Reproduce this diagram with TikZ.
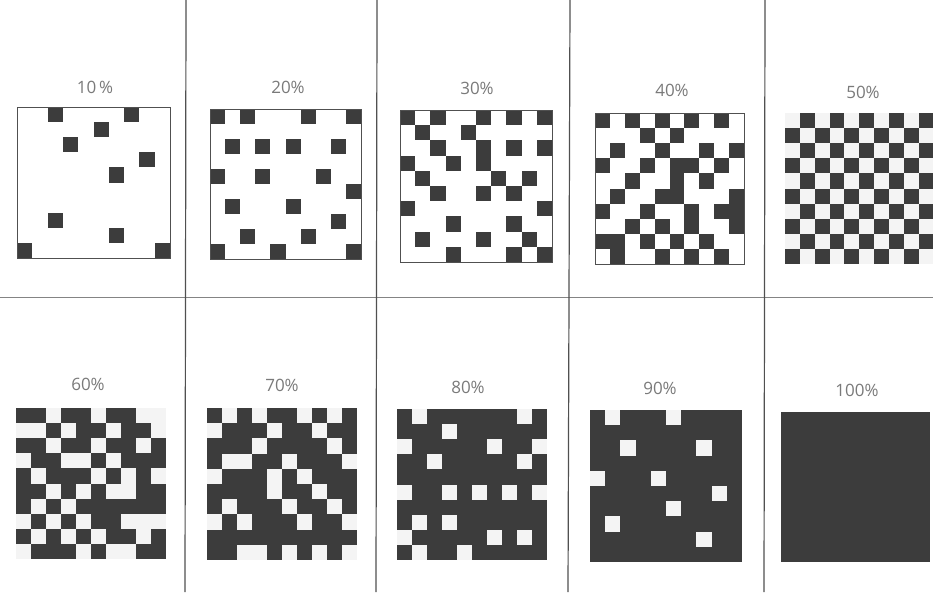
\documentclass[tikz,border=0pt]{standalone}
\usepackage{fontspec}
\setmainfont{Open Sans}
\definecolor{ink}{HTML}{3C3C3C}
\definecolor{paper}{HTML}{F4F4F4}
\definecolor{rule}{HTML}{505050}
\definecolor{lbl}{HTML}{7A7A7A}
\tikzset{
  inkcell/.style={fill=ink},
  papercell/.style={fill=paper},
  frame/.style={draw=rule,line width=0.9pt},
  divider/.style={draw=rule,line width=1.2pt},
  hdivider/.style={draw=rule!70,line width=1pt},
  pct/.style={text=lbl,font=\fontsize{17}{20}\selectfont,inner sep=0pt},
}
% light pattern: dark cells on white, framed
\newcommand\lightgrid[5]{%
  \begin{scope}[shift={(#1,#2)},x=#3pt,y=-#4pt]
    \foreach \cc/\rr in {#5} {\fill[inkcell] (\cc,\rr) rectangle ++(1,1);}
    \draw[frame] (0,0) rectangle (10,10);
  \end{scope}}
% dark pattern: white cells on dark
\newcommand\darkgrid[5]{%
  \begin{scope}[shift={(#1,#2)},x=#3pt,y=-#4pt]
    \fill[inkcell] (0,0) rectangle (10,10);
    \foreach \cc/\rr in {#5} {\fill[papercell] (\cc,\rr) rectangle ++(1,1);}
  \end{scope}}
\begin{document}
\begin{tikzpicture}[x=1pt,y=-1pt]
\useasboundingbox (0,0) rectangle (933,592);
\fill[white] (0,0) rectangle (933,592);

% dividers
\coordinate (t1) at (186,0);   \coordinate (b1) at (185,592);
\coordinate (t2) at (377,0);   \coordinate (b2) at (376,592);
\coordinate (t3) at (570,0);   \coordinate (b3) at (568,592);
\coordinate (t4) at (765,0);   \coordinate (b4) at (764,592);
\coordinate (hl) at (0,297);   \coordinate (hr) at (933,297);
\draw[hdivider] (hl) -- (hr);
\draw[divider] (t1) -- (b1);
\draw[divider] (t2) -- (b2);
\draw[divider] (t3) -- (b3);
\draw[divider] (t4) -- (b4);

% 10%
\lightgrid{17}{107}{15.3}{15.1}{2/0,7/0,5/1,3/2,8/3,6/4,2/7,6/8,0/9,9/9}
% 20%
\lightgrid{210}{109}{15.1}{15.0}{0/0,2/0,6/0,9/0,1/2,3/2,5/2,8/2,0/4,3/4,7/4,9/5,1/6,5/6,8/7,2/8,6/8,0/9,4/9,9/9}
% 30%
\lightgrid{400}{110}{15.2}{15.2}{0/0,2/0,5/0,7/0,9/0,1/1,4/1,2/2,5/2,7/2,9/2,0/3,3/3,5/3,1/4,6/4,8/4,2/5,5/5,7/5,0/6,9/6,3/7,7/7,1/8,5/8,8/8,3/9,7/9,9/9}
% 40%
\lightgrid{595}{113}{14.9}{15.1}{0/0,2/0,4/0,6/0,8/0,3/1,5/1,1/2,4/2,7/2,9/2,0/3,3/3,5/3,6/3,8/3,2/4,5/4,7/4,1/5,4/5,5/5,9/5,0/6,3/6,6/6,8/6,9/6,2/7,4/7,6/7,9/7,0/8,1/8,3/8,5/8,7/8,1/9,4/9,6/9,8/9}
% 50%
\darkgrid{785}{113}{14.85}{15.1}{0/0,2/0,4/0,6/0,8/0,1/1,3/1,5/1,7/1,9/1,0/2,2/2,4/2,6/2,8/2,1/3,3/3,5/3,7/3,9/3,0/4,2/4,4/4,6/4,8/4,1/5,3/5,5/5,7/5,9/5,0/6,2/6,4/6,6/6,8/6,1/7,3/7,5/7,7/7,9/7,0/8,2/8,4/8,6/8,8/8,1/9,3/9,5/9,7/9,9/9}
% 60%
\darkgrid{16}{408}{15.0}{15.1}{2/0,5/0,8/0,9/0,0/1,1/1,3/1,6/1,9/1,2/2,5/2,8/2,0/3,3/3,4/3,6/3,1/4,5/4,7/4,9/4,2/5,4/5,6/5,7/5,1/6,3/6,0/7,2/7,4/7,7/7,8/7,9/7,1/8,3/8,5/8,8/8,0/9,4/9,6/9,7/9}
% 70%
\darkgrid{207}{408}{15.0}{15.2}{1/0,3/0,6/0,8/0,0/1,4/1,7/1,3/2,8/2,1/3,2/3,5/3,9/3,0/4,4/4,6/4,4/5,7/5,1/6,5/6,8/6,0/7,2/7,6/7,9/7,2/9,3/9,5/9,7/9,9/9}
% 80%
\darkgrid{397}{409}{15.0}{15.1}{1/0,8/0,3/1,0/2,6/2,9/2,2/3,8/3,0/5,3/5,5/5,7/5,9/5,1/7,3/7,0/8,6/8,8/8,1/9,4/9}
% 90%
\darkgrid{590}{410}{15.2}{15.2}{1/0,5/0,2/2,7/2,0/4,4/4,8/5,5/6,1/7,7/8}
% 100%
\darkgrid{781}{412}{14.9}{15.0}{}

% labels
\node[pct] (p10) at (95,87) {10\,\%};
\node[pct] (p20) at (288,87) {20\%};
\node[pct] (p30) at (477,88) {30\%};
\node[pct] (p40) at (672,90) {40\%};
\node[pct] (p50) at (863,92) {50\%};
\node[pct] (p60) at (88,384) {60\%};
\node[pct] (p70) at (282,385) {70\%};
\node[pct] (p80) at (468,387) {80\%};
\node[pct] (p90) at (660,388) {90\%};
\node[pct] (p100) at (857,390) {100\%};
\end{tikzpicture}
\end{document}
